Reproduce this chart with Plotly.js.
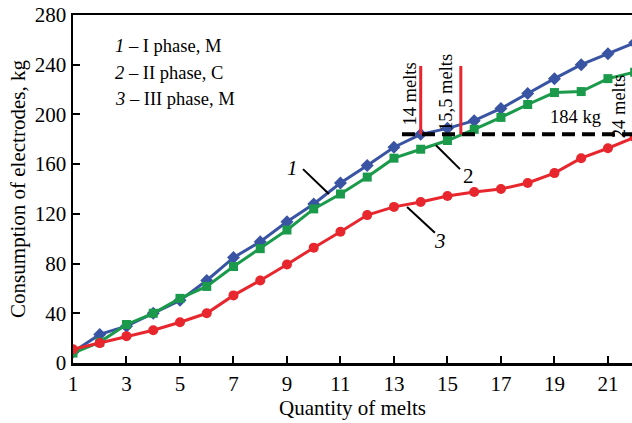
<!DOCTYPE html>
<html><head><meta charset="utf-8">
<script src="https://cdn.plot.ly/plotly-3.0.1.min.js"></script>
<style>html,body{margin:0;padding:0;background:#fff}#chart{width:632px;height:423px}</style>
</head><body><div id="chart"></div>
<script>
const melts = [1,2,3,4,5,6,7,8,9,10,11,12,13,14,15,16,17,18,19,20,21,22];
const phase1 = [8.8,23,29.6,40,50.4,66.4,84.8,97.6,113.6,128,144.8,159,173.6,184,188.8,195,204.8,216.8,228.8,240,248.8,257.6];
const phase2 = [8,16.8,31,40,52,61.6,77.6,92,107,124,136,149.6,164.8,172,179,188,197.6,208,217.6,218.4,228.8,234];
const phase3 = [11,16,21.6,26.4,32.8,40,54.4,66.4,79.2,92.8,105.6,119,125.6,129.6,134.4,137.6,140,144.8,152.8,164.8,172.8,181.6];
const xTicks = [1,3,5,7,9,11,13,15,17,19,21];
const yTicks = [0,40,80,120,160,200,240,280];
const limitKg = 184;
const marks = [14, 15.5];
const legendLines = ['<i>1</i> – I phase, M','<i>2</i> – II phase, C','<i>3</i> – III phase, M'];

const F = 'Liberation Serif, Times New Roman, serif';
const traces = [
 {x:melts,y:phase1,mode:'lines+markers',line:{color:'#3a54a4',width:3},marker:{symbol:'diamond',size:10,color:'#3a54a4'},cliponaxis:true},
 {x:melts,y:phase2,mode:'lines+markers',line:{color:'#1a9a4a',width:3},marker:{symbol:'square',size:9,color:'#1a9a4a'},cliponaxis:true},
 {x:melts,y:phase3,mode:'lines+markers',line:{color:'#e8262d',width:3},marker:{symbol:'circle',size:10,color:'#e8262d'},cliponaxis:true}
];
const shapes = [
 {type:'line',xref:'x',yref:'y',x0:13.3,x1:22,y0:limitKg,y1:limitKg,line:{color:'black',width:4,dash:'13px,7px'}},
 ...marks.map(m=>({type:'line',xref:'x',yref:'y',x0:m,x1:m,y0:limitKg,y1:239,line:{color:'#e8262d',width:3}})),
 {type:'line',xref:'x',yref:'y',x0:9.6,x1:10.57,y0:156,y1:136,line:{color:'black',width:2}},
 {type:'line',xref:'x',yref:'y',x0:14.57,x1:15.47,y0:175.2,y1:156,line:{color:'black',width:2}},
 {type:'line',xref:'x',yref:'y',x0:13.49,x1:14.53,y0:125.6,y1:104.8,line:{color:'black',width:2}}
];
const tf = {family:F,size:18.5,color:'black'};
const annotations = [
 ...legendLines.map((t,i)=>({x:2.5,y:255-i*21.3,xref:'x',yref:'y',text:t,showarrow:false,xanchor:'left',yanchor:'middle',font:tf})),
 {x:9.22,y:156.8,text:'<i>1</i>',showarrow:false,font:{family:F,size:21,color:'black'}},
 {x:15.77,y:150.4,text:'2',showarrow:false,font:{family:F,size:21,color:'black'}},
 {x:14.72,y:98.4,text:'<i>3</i>',showarrow:false,font:{family:F,size:21,color:'black'}},
 {x:13.6,y:216,text:'14 melts',textangle:-90,showarrow:false,font:tf},
 {x:14.94,y:218,text:'15,5 melts',textangle:-90,showarrow:false,font:tf},
 {x:21.42,y:206,text:'24 melts',textangle:-90,showarrow:false,font:tf},
 {x:19.77,y:198,text:limitKg+' kg',showarrow:false,font:tf}
];
const layout = {
 width:632,height:423,margin:{l:73,r:0,t:15,b:60},
 paper_bgcolor:'white',plot_bgcolor:'white',showlegend:false,
 font:{family:F,size:18,color:'black'},
 xaxis:{range:[1,21.9],tickvals:xTicks,ticktext:xTicks.map(String),showgrid:false,zeroline:false,showline:true,mirror:true,linecolor:'black',linewidth:2.5,ticks:'inside',ticklen:7,tickwidth:2,tickcolor:'black',tickfont:{family:F,size:21},title:{text:'Quantity of melts',font:{family:F,size:21},standoff:1}},
 yaxis:{range:[0,280],tickvals:yTicks,showgrid:false,zeroline:false,showline:true,linecolor:'black',linewidth:2.5,ticks:'inside',ticklen:7,tickwidth:2,tickcolor:'black',tickfont:{family:F,size:21},title:{text:'Consumption of electrodes, kg',font:{family:F,size:21},standoff:4}},
 shapes:shapes,annotations:annotations
};
Plotly.newPlot('chart',traces,layout,{staticPlot:true,displayModeBar:false});
</script></body></html>
